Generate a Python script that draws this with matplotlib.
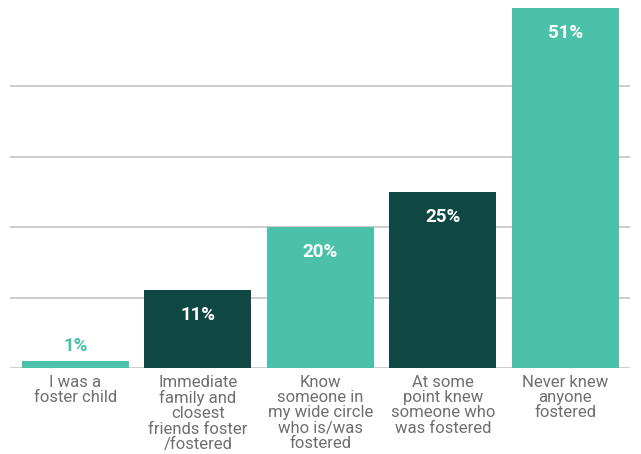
import matplotlib
matplotlib.use("Agg")
import matplotlib.pyplot as plt

categories = [
    "I was a\nfoster child",
    "Immediate\nfamily and\nclosest\nfriends foster\n/fostered",
    "Know\nsomeone in\nmy wide circle\nwho is/was\nfostered",
    "At some\npoint knew\nsomeone who\nwas fostered",
    "Never knew\nanyone\nfostered",
]
values = [1, 11, 20, 25, 51]
value_labels = ["1%", "11%", "20%", "25%", "51%"]

TEAL = "#4cc1aa"
DARK = "#0f4743"
bar_colors = [TEAL, DARK, TEAL, DARK, TEAL]

plt.rcParams["font.family"] = ["Roboto", "DejaVu Sans"]

fig = plt.figure(figsize=(6.41, 4.54), dpi=100)
ax = fig.add_axes([10 / 641, 86 / 454, 620 / 641, 368 / 454])

x = list(range(len(values)))
ax.bar(x, values, width=0.873, color=bar_colors, zorder=3)

ax.set_xlim(-0.535, 4.53)
ax.set_ylim(0, 52.2)

# horizontal reference lines and baseline
for g in [0, 10, 20, 30, 40]:
    ax.axhline(g, color="#c8c8c8", linewidth=1.3, zorder=1)

for xi, v, lab in zip(x, values, value_labels):
    if v < 5:
        ax.annotate(lab, (xi, v), xytext=(0, 11), textcoords="offset points",
                    ha="center", va="center", color=TEAL, fontsize=13.5,
                    fontweight="bold", zorder=4)
    else:
        ax.annotate(lab, (xi, v), xytext=(0, -18), textcoords="offset points",
                    ha="center", va="center", color="white", fontsize=13.5,
                    fontweight="bold", zorder=4)

ax.set_xticks(x)
ax.set_xticklabels(categories, fontsize=12, color="#6e6e6e", linespacing=1.02)
ax.tick_params(axis="x", length=0, pad=5)
ax.set_yticks([])
for s in ax.spines.values():
    s.set_visible(False)

fig.savefig("out.png", dpi=100)
